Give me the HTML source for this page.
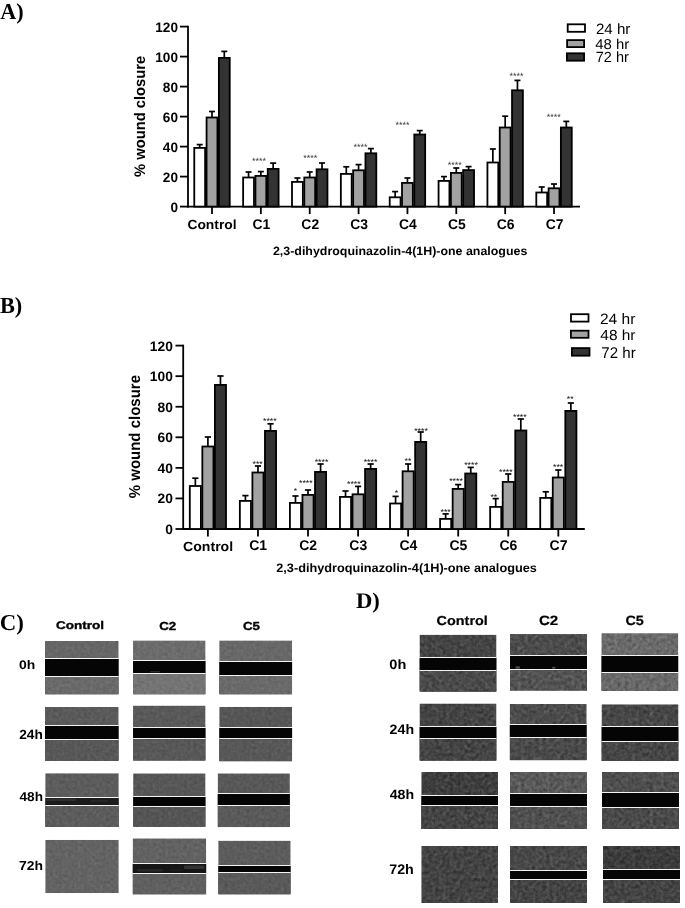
<!DOCTYPE html>
<html><head><meta charset="utf-8"><title>Wound closure</title>
<style>html,body{margin:0;padding:0;background:#fff;width:685px;height:908px;overflow:hidden}svg{display:block}</style>
</head><body>
<svg width="685" height="908" viewBox="0 0 685 908" font-family="'Liberation Sans', Arial, sans-serif" text-rendering="geometricPrecision">
<defs><filter id="grainC" x="0" y="0" width="1" height="1" color-interpolation-filters="sRGB"><feTurbulence type="fractalNoise" baseFrequency="0.32" numOctaves="2" seed="3" result="n"/><feColorMatrix in="n" type="matrix" values="0.33 0.33 0.34 0 0  0.33 0.33 0.34 0 0  0.33 0.33 0.34 0 0  0 0 0 0 1" result="g"/><feComposite in="SourceGraphic" in2="g" operator="arithmetic" k1="0" k2="1" k3="0.2" k4="-0.1" result="c"/><feComposite in="c" in2="SourceAlpha" operator="in"/></filter><filter id="grainD" x="0" y="0" width="1" height="1" color-interpolation-filters="sRGB"><feTurbulence type="fractalNoise" baseFrequency="0.28" numOctaves="3" seed="11" result="n"/><feColorMatrix in="n" type="matrix" values="0.33 0.33 0.34 0 0  0.33 0.33 0.34 0 0  0.33 0.33 0.34 0 0  0 0 0 0 1" result="g"/><feComposite in="SourceGraphic" in2="g" operator="arithmetic" k1="0" k2="1" k3="0.42" k4="-0.21" result="c"/><feComposite in="c" in2="SourceAlpha" operator="in"/></filter></defs>
<rect width="685" height="908" fill="#fff"/>
<g id="shapes">
<line x1="188" y1="25.699999999999996" x2="188" y2="207.5" stroke="#000" stroke-width="1.8"/>
<line x1="187.1" y1="206.6" x2="580" y2="206.6" stroke="#000" stroke-width="1.8"/>
<line x1="180" y1="206.60" x2="188" y2="206.60" stroke="#000" stroke-width="1.8"/>
<line x1="180" y1="176.60" x2="188" y2="176.60" stroke="#000" stroke-width="1.8"/>
<line x1="180" y1="146.60" x2="188" y2="146.60" stroke="#000" stroke-width="1.8"/>
<line x1="180" y1="116.60" x2="188" y2="116.60" stroke="#000" stroke-width="1.8"/>
<line x1="180" y1="86.60" x2="188" y2="86.60" stroke="#000" stroke-width="1.8"/>
<line x1="180" y1="56.60" x2="188" y2="56.60" stroke="#000" stroke-width="1.8"/>
<line x1="180" y1="26.60" x2="188" y2="26.60" stroke="#000" stroke-width="1.8"/>
<line x1="212.00" y1="206.6" x2="212.00" y2="214.1" stroke="#000" stroke-width="1.8"/>
<line x1="199.70" y1="147.90" x2="199.70" y2="144.60" stroke="#000" stroke-width="1.7"/>
<line x1="196.70" y1="144.60" x2="202.70" y2="144.60" stroke="#000" stroke-width="1.7"/>
<rect x="194.27" y="147.90" width="10.85" height="58.70" fill="#fff" stroke="#000" stroke-width="1.8"/>
<line x1="212.00" y1="117.50" x2="212.00" y2="111.50" stroke="#000" stroke-width="1.7"/>
<line x1="209.00" y1="111.50" x2="215.00" y2="111.50" stroke="#000" stroke-width="1.7"/>
<rect x="206.57" y="117.50" width="10.85" height="89.10" fill="#a2a2a2" stroke="#000" stroke-width="1.8"/>
<line x1="224.30" y1="57.90" x2="224.30" y2="51.40" stroke="#000" stroke-width="1.7"/>
<line x1="221.30" y1="51.40" x2="227.30" y2="51.40" stroke="#000" stroke-width="1.7"/>
<rect x="218.88" y="57.90" width="10.85" height="148.70" fill="#333333" stroke="#000" stroke-width="1.8"/>
<line x1="260.86" y1="206.6" x2="260.86" y2="214.1" stroke="#000" stroke-width="1.8"/>
<line x1="248.56" y1="177.50" x2="248.56" y2="172.00" stroke="#000" stroke-width="1.7"/>
<line x1="245.56" y1="172.00" x2="251.56" y2="172.00" stroke="#000" stroke-width="1.7"/>
<rect x="243.13" y="177.50" width="10.85" height="29.10" fill="#fff" stroke="#000" stroke-width="1.8"/>
<line x1="260.86" y1="175.90" x2="260.86" y2="171.60" stroke="#000" stroke-width="1.7"/>
<line x1="257.86" y1="171.60" x2="263.86" y2="171.60" stroke="#000" stroke-width="1.7"/>
<rect x="255.44" y="175.90" width="10.85" height="30.70" fill="#a2a2a2" stroke="#000" stroke-width="1.8"/>
<line x1="273.16" y1="168.90" x2="273.16" y2="163.10" stroke="#000" stroke-width="1.7"/>
<line x1="270.16" y1="163.10" x2="276.16" y2="163.10" stroke="#000" stroke-width="1.7"/>
<rect x="267.74" y="168.90" width="10.85" height="37.70" fill="#333333" stroke="#000" stroke-width="1.8"/>
<line x1="309.72" y1="206.6" x2="309.72" y2="214.1" stroke="#000" stroke-width="1.8"/>
<line x1="297.42" y1="181.90" x2="297.42" y2="178.00" stroke="#000" stroke-width="1.7"/>
<line x1="294.42" y1="178.00" x2="300.42" y2="178.00" stroke="#000" stroke-width="1.7"/>
<rect x="292.00" y="181.90" width="10.85" height="24.70" fill="#fff" stroke="#000" stroke-width="1.8"/>
<line x1="309.72" y1="177.50" x2="309.72" y2="172.00" stroke="#000" stroke-width="1.7"/>
<line x1="306.72" y1="172.00" x2="312.72" y2="172.00" stroke="#000" stroke-width="1.7"/>
<rect x="304.30" y="177.50" width="10.85" height="29.10" fill="#a2a2a2" stroke="#000" stroke-width="1.8"/>
<line x1="322.02" y1="169.30" x2="322.02" y2="163.00" stroke="#000" stroke-width="1.7"/>
<line x1="319.02" y1="163.00" x2="325.02" y2="163.00" stroke="#000" stroke-width="1.7"/>
<rect x="316.60" y="169.30" width="10.85" height="37.30" fill="#333333" stroke="#000" stroke-width="1.8"/>
<line x1="358.58" y1="206.6" x2="358.58" y2="214.1" stroke="#000" stroke-width="1.8"/>
<line x1="346.28" y1="173.90" x2="346.28" y2="166.80" stroke="#000" stroke-width="1.7"/>
<line x1="343.28" y1="166.80" x2="349.28" y2="166.80" stroke="#000" stroke-width="1.7"/>
<rect x="340.85" y="173.90" width="10.85" height="32.70" fill="#fff" stroke="#000" stroke-width="1.8"/>
<line x1="358.58" y1="170.30" x2="358.58" y2="164.60" stroke="#000" stroke-width="1.7"/>
<line x1="355.58" y1="164.60" x2="361.58" y2="164.60" stroke="#000" stroke-width="1.7"/>
<rect x="353.15" y="170.30" width="10.85" height="36.30" fill="#a2a2a2" stroke="#000" stroke-width="1.8"/>
<line x1="370.88" y1="153.30" x2="370.88" y2="148.60" stroke="#000" stroke-width="1.7"/>
<line x1="367.88" y1="148.60" x2="373.88" y2="148.60" stroke="#000" stroke-width="1.7"/>
<rect x="365.45" y="153.30" width="10.85" height="53.30" fill="#333333" stroke="#000" stroke-width="1.8"/>
<line x1="407.44" y1="206.6" x2="407.44" y2="214.1" stroke="#000" stroke-width="1.8"/>
<line x1="395.14" y1="197.30" x2="395.14" y2="191.60" stroke="#000" stroke-width="1.7"/>
<line x1="392.14" y1="191.60" x2="398.14" y2="191.60" stroke="#000" stroke-width="1.7"/>
<rect x="389.71" y="197.30" width="10.85" height="9.30" fill="#fff" stroke="#000" stroke-width="1.8"/>
<line x1="407.44" y1="182.90" x2="407.44" y2="178.00" stroke="#000" stroke-width="1.7"/>
<line x1="404.44" y1="178.00" x2="410.44" y2="178.00" stroke="#000" stroke-width="1.7"/>
<rect x="402.01" y="182.90" width="10.85" height="23.70" fill="#a2a2a2" stroke="#000" stroke-width="1.8"/>
<line x1="419.74" y1="134.50" x2="419.74" y2="130.60" stroke="#000" stroke-width="1.7"/>
<line x1="416.74" y1="130.60" x2="422.74" y2="130.60" stroke="#000" stroke-width="1.7"/>
<rect x="414.31" y="134.50" width="10.85" height="72.10" fill="#333333" stroke="#000" stroke-width="1.8"/>
<line x1="456.30" y1="206.6" x2="456.30" y2="214.1" stroke="#000" stroke-width="1.8"/>
<line x1="444.00" y1="180.90" x2="444.00" y2="176.60" stroke="#000" stroke-width="1.7"/>
<line x1="441.00" y1="176.60" x2="447.00" y2="176.60" stroke="#000" stroke-width="1.7"/>
<rect x="438.57" y="180.90" width="10.85" height="25.70" fill="#fff" stroke="#000" stroke-width="1.8"/>
<line x1="456.30" y1="172.90" x2="456.30" y2="168.00" stroke="#000" stroke-width="1.7"/>
<line x1="453.30" y1="168.00" x2="459.30" y2="168.00" stroke="#000" stroke-width="1.7"/>
<rect x="450.88" y="172.90" width="10.85" height="33.70" fill="#a2a2a2" stroke="#000" stroke-width="1.8"/>
<line x1="468.60" y1="170.10" x2="468.60" y2="166.60" stroke="#000" stroke-width="1.7"/>
<line x1="465.60" y1="166.60" x2="471.60" y2="166.60" stroke="#000" stroke-width="1.7"/>
<rect x="463.18" y="170.10" width="10.85" height="36.50" fill="#333333" stroke="#000" stroke-width="1.8"/>
<line x1="505.16" y1="206.6" x2="505.16" y2="214.1" stroke="#000" stroke-width="1.8"/>
<line x1="492.86" y1="162.50" x2="492.86" y2="149.00" stroke="#000" stroke-width="1.7"/>
<line x1="489.86" y1="149.00" x2="495.86" y2="149.00" stroke="#000" stroke-width="1.7"/>
<rect x="487.43" y="162.50" width="10.85" height="44.10" fill="#fff" stroke="#000" stroke-width="1.8"/>
<line x1="505.16" y1="127.50" x2="505.16" y2="116.20" stroke="#000" stroke-width="1.7"/>
<line x1="502.16" y1="116.20" x2="508.16" y2="116.20" stroke="#000" stroke-width="1.7"/>
<rect x="499.73" y="127.50" width="10.85" height="79.10" fill="#a2a2a2" stroke="#000" stroke-width="1.8"/>
<line x1="517.46" y1="90.30" x2="517.46" y2="80.40" stroke="#000" stroke-width="1.7"/>
<line x1="514.46" y1="80.40" x2="520.46" y2="80.40" stroke="#000" stroke-width="1.7"/>
<rect x="512.03" y="90.30" width="10.85" height="116.30" fill="#333333" stroke="#000" stroke-width="1.8"/>
<line x1="554.02" y1="206.6" x2="554.02" y2="214.1" stroke="#000" stroke-width="1.8"/>
<line x1="541.72" y1="192.50" x2="541.72" y2="187.00" stroke="#000" stroke-width="1.7"/>
<line x1="538.72" y1="187.00" x2="544.72" y2="187.00" stroke="#000" stroke-width="1.7"/>
<rect x="536.30" y="192.50" width="10.85" height="14.10" fill="#fff" stroke="#000" stroke-width="1.8"/>
<line x1="554.02" y1="188.30" x2="554.02" y2="184.00" stroke="#000" stroke-width="1.7"/>
<line x1="551.02" y1="184.00" x2="557.02" y2="184.00" stroke="#000" stroke-width="1.7"/>
<rect x="548.60" y="188.30" width="10.85" height="18.30" fill="#a2a2a2" stroke="#000" stroke-width="1.8"/>
<line x1="566.32" y1="127.50" x2="566.32" y2="121.40" stroke="#000" stroke-width="1.7"/>
<line x1="563.32" y1="121.40" x2="569.32" y2="121.40" stroke="#000" stroke-width="1.7"/>
<rect x="560.89" y="127.50" width="10.85" height="79.10" fill="#333333" stroke="#000" stroke-width="1.8"/>
<rect x="567.7" y="24.3" width="17.3" height="7.5" fill="#fff" stroke="#000" stroke-width="1.8"/>
<rect x="567.1" y="40.1" width="17.0" height="7.0" fill="#a2a2a2" stroke="#000" stroke-width="1.8"/>
<rect x="566.9" y="53.3" width="17.2" height="7.4" fill="#333333" stroke="#000" stroke-width="1.8"/>
<line x1="183.2" y1="344.70400000000006" x2="183.2" y2="529.9" stroke="#000" stroke-width="1.8"/>
<line x1="182.29999999999998" y1="529" x2="584.8" y2="529" stroke="#000" stroke-width="1.8"/>
<line x1="175.5" y1="529.00" x2="183.2" y2="529.00" stroke="#000" stroke-width="1.8"/>
<line x1="175.5" y1="498.43" x2="183.2" y2="498.43" stroke="#000" stroke-width="1.8"/>
<line x1="175.5" y1="467.87" x2="183.2" y2="467.87" stroke="#000" stroke-width="1.8"/>
<line x1="175.5" y1="437.30" x2="183.2" y2="437.30" stroke="#000" stroke-width="1.8"/>
<line x1="175.5" y1="406.74" x2="183.2" y2="406.74" stroke="#000" stroke-width="1.8"/>
<line x1="175.5" y1="376.17" x2="183.2" y2="376.17" stroke="#000" stroke-width="1.8"/>
<line x1="175.5" y1="345.60" x2="183.2" y2="345.60" stroke="#000" stroke-width="1.8"/>
<line x1="207.90" y1="529" x2="207.90" y2="536.5" stroke="#000" stroke-width="1.8"/>
<line x1="195.35" y1="486.00" x2="195.35" y2="478.20" stroke="#000" stroke-width="1.7"/>
<line x1="192.25" y1="478.20" x2="198.45" y2="478.20" stroke="#000" stroke-width="1.7"/>
<rect x="189.80" y="486.00" width="11.10" height="43.00" fill="#fff" stroke="#000" stroke-width="1.8"/>
<line x1="207.90" y1="446.50" x2="207.90" y2="437.00" stroke="#000" stroke-width="1.7"/>
<line x1="204.80" y1="437.00" x2="211.00" y2="437.00" stroke="#000" stroke-width="1.7"/>
<rect x="202.35" y="446.50" width="11.10" height="82.50" fill="#a2a2a2" stroke="#000" stroke-width="1.8"/>
<line x1="220.45" y1="384.90" x2="220.45" y2="376.00" stroke="#000" stroke-width="1.7"/>
<line x1="217.35" y1="376.00" x2="223.55" y2="376.00" stroke="#000" stroke-width="1.7"/>
<rect x="214.90" y="384.90" width="11.10" height="144.10" fill="#333333" stroke="#000" stroke-width="1.8"/>
<line x1="257.96" y1="529" x2="257.96" y2="536.5" stroke="#000" stroke-width="1.8"/>
<line x1="245.41" y1="500.90" x2="245.41" y2="495.60" stroke="#000" stroke-width="1.7"/>
<line x1="242.31" y1="495.60" x2="248.51" y2="495.60" stroke="#000" stroke-width="1.7"/>
<rect x="239.86" y="500.90" width="11.10" height="28.10" fill="#fff" stroke="#000" stroke-width="1.8"/>
<line x1="257.96" y1="472.50" x2="257.96" y2="466.00" stroke="#000" stroke-width="1.7"/>
<line x1="254.86" y1="466.00" x2="261.06" y2="466.00" stroke="#000" stroke-width="1.7"/>
<rect x="252.41" y="472.50" width="11.10" height="56.50" fill="#a2a2a2" stroke="#000" stroke-width="1.8"/>
<line x1="270.51" y1="430.90" x2="270.51" y2="423.80" stroke="#000" stroke-width="1.7"/>
<line x1="267.41" y1="423.80" x2="273.61" y2="423.80" stroke="#000" stroke-width="1.7"/>
<rect x="264.96" y="430.90" width="11.10" height="98.10" fill="#333333" stroke="#000" stroke-width="1.8"/>
<line x1="308.02" y1="529" x2="308.02" y2="536.5" stroke="#000" stroke-width="1.8"/>
<line x1="295.47" y1="502.90" x2="295.47" y2="496.00" stroke="#000" stroke-width="1.7"/>
<line x1="292.37" y1="496.00" x2="298.57" y2="496.00" stroke="#000" stroke-width="1.7"/>
<rect x="289.92" y="502.90" width="11.10" height="26.10" fill="#fff" stroke="#000" stroke-width="1.8"/>
<line x1="308.02" y1="494.90" x2="308.02" y2="490.00" stroke="#000" stroke-width="1.7"/>
<line x1="304.92" y1="490.00" x2="311.12" y2="490.00" stroke="#000" stroke-width="1.7"/>
<rect x="302.47" y="494.90" width="11.10" height="34.10" fill="#a2a2a2" stroke="#000" stroke-width="1.8"/>
<line x1="320.57" y1="471.90" x2="320.57" y2="464.00" stroke="#000" stroke-width="1.7"/>
<line x1="317.47" y1="464.00" x2="323.67" y2="464.00" stroke="#000" stroke-width="1.7"/>
<rect x="315.02" y="471.90" width="11.10" height="57.10" fill="#333333" stroke="#000" stroke-width="1.8"/>
<line x1="358.08" y1="529" x2="358.08" y2="536.5" stroke="#000" stroke-width="1.8"/>
<line x1="345.53" y1="496.90" x2="345.53" y2="491.00" stroke="#000" stroke-width="1.7"/>
<line x1="342.43" y1="491.00" x2="348.63" y2="491.00" stroke="#000" stroke-width="1.7"/>
<rect x="339.98" y="496.90" width="11.10" height="32.10" fill="#fff" stroke="#000" stroke-width="1.8"/>
<line x1="358.08" y1="494.30" x2="358.08" y2="486.40" stroke="#000" stroke-width="1.7"/>
<line x1="354.98" y1="486.40" x2="361.18" y2="486.40" stroke="#000" stroke-width="1.7"/>
<rect x="352.53" y="494.30" width="11.10" height="34.70" fill="#a2a2a2" stroke="#000" stroke-width="1.8"/>
<line x1="370.63" y1="468.90" x2="370.63" y2="464.00" stroke="#000" stroke-width="1.7"/>
<line x1="367.53" y1="464.00" x2="373.73" y2="464.00" stroke="#000" stroke-width="1.7"/>
<rect x="365.08" y="468.90" width="11.10" height="60.10" fill="#333333" stroke="#000" stroke-width="1.8"/>
<line x1="408.14" y1="529" x2="408.14" y2="536.5" stroke="#000" stroke-width="1.8"/>
<line x1="395.59" y1="503.50" x2="395.59" y2="496.40" stroke="#000" stroke-width="1.7"/>
<line x1="392.49" y1="496.40" x2="398.69" y2="496.40" stroke="#000" stroke-width="1.7"/>
<rect x="390.04" y="503.50" width="11.10" height="25.50" fill="#fff" stroke="#000" stroke-width="1.8"/>
<line x1="408.14" y1="471.30" x2="408.14" y2="464.00" stroke="#000" stroke-width="1.7"/>
<line x1="405.04" y1="464.00" x2="411.24" y2="464.00" stroke="#000" stroke-width="1.7"/>
<rect x="402.59" y="471.30" width="11.10" height="57.70" fill="#a2a2a2" stroke="#000" stroke-width="1.8"/>
<line x1="420.69" y1="441.90" x2="420.69" y2="432.00" stroke="#000" stroke-width="1.7"/>
<line x1="417.59" y1="432.00" x2="423.79" y2="432.00" stroke="#000" stroke-width="1.7"/>
<rect x="415.14" y="441.90" width="11.10" height="87.10" fill="#333333" stroke="#000" stroke-width="1.8"/>
<line x1="458.20" y1="529" x2="458.20" y2="536.5" stroke="#000" stroke-width="1.8"/>
<line x1="445.65" y1="518.90" x2="445.65" y2="513.90" stroke="#000" stroke-width="1.7"/>
<line x1="442.55" y1="513.90" x2="448.75" y2="513.90" stroke="#000" stroke-width="1.7"/>
<rect x="440.10" y="518.90" width="11.10" height="10.10" fill="#fff" stroke="#000" stroke-width="1.8"/>
<line x1="458.20" y1="488.90" x2="458.20" y2="484.60" stroke="#000" stroke-width="1.7"/>
<line x1="455.10" y1="484.60" x2="461.30" y2="484.60" stroke="#000" stroke-width="1.7"/>
<rect x="452.65" y="488.90" width="11.10" height="40.10" fill="#a2a2a2" stroke="#000" stroke-width="1.8"/>
<line x1="470.75" y1="473.50" x2="470.75" y2="467.40" stroke="#000" stroke-width="1.7"/>
<line x1="467.65" y1="467.40" x2="473.85" y2="467.40" stroke="#000" stroke-width="1.7"/>
<rect x="465.20" y="473.50" width="11.10" height="55.50" fill="#333333" stroke="#000" stroke-width="1.8"/>
<line x1="508.26" y1="529" x2="508.26" y2="536.5" stroke="#000" stroke-width="1.8"/>
<line x1="495.71" y1="506.90" x2="495.71" y2="498.60" stroke="#000" stroke-width="1.7"/>
<line x1="492.61" y1="498.60" x2="498.81" y2="498.60" stroke="#000" stroke-width="1.7"/>
<rect x="490.16" y="506.90" width="11.10" height="22.10" fill="#fff" stroke="#000" stroke-width="1.8"/>
<line x1="508.26" y1="481.90" x2="508.26" y2="474.00" stroke="#000" stroke-width="1.7"/>
<line x1="505.16" y1="474.00" x2="511.36" y2="474.00" stroke="#000" stroke-width="1.7"/>
<rect x="502.71" y="481.90" width="11.10" height="47.10" fill="#a2a2a2" stroke="#000" stroke-width="1.8"/>
<line x1="520.81" y1="430.50" x2="520.81" y2="419.00" stroke="#000" stroke-width="1.7"/>
<line x1="517.71" y1="419.00" x2="523.91" y2="419.00" stroke="#000" stroke-width="1.7"/>
<rect x="515.26" y="430.50" width="11.10" height="98.50" fill="#333333" stroke="#000" stroke-width="1.8"/>
<line x1="558.32" y1="529" x2="558.32" y2="536.5" stroke="#000" stroke-width="1.8"/>
<line x1="545.77" y1="497.90" x2="545.77" y2="491.80" stroke="#000" stroke-width="1.7"/>
<line x1="542.67" y1="491.80" x2="548.87" y2="491.80" stroke="#000" stroke-width="1.7"/>
<rect x="540.22" y="497.90" width="11.10" height="31.10" fill="#fff" stroke="#000" stroke-width="1.8"/>
<line x1="558.32" y1="477.50" x2="558.32" y2="470.00" stroke="#000" stroke-width="1.7"/>
<line x1="555.22" y1="470.00" x2="561.42" y2="470.00" stroke="#000" stroke-width="1.7"/>
<rect x="552.77" y="477.50" width="11.10" height="51.50" fill="#a2a2a2" stroke="#000" stroke-width="1.8"/>
<line x1="570.87" y1="410.90" x2="570.87" y2="403.00" stroke="#000" stroke-width="1.7"/>
<line x1="567.77" y1="403.00" x2="573.97" y2="403.00" stroke="#000" stroke-width="1.7"/>
<rect x="565.32" y="410.90" width="11.10" height="118.10" fill="#333333" stroke="#000" stroke-width="1.8"/>
<rect x="571" y="314.2" width="17.5" height="7.4" fill="#fff" stroke="#000" stroke-width="1.8"/>
<rect x="570.9" y="330.7" width="17.6" height="7.1" fill="#a2a2a2" stroke="#000" stroke-width="1.8"/>
<rect x="571.9" y="348.1" width="17.6" height="7.6" fill="#333333" stroke="#000" stroke-width="1.8"/>
<g filter="url(#grainC)">
<rect x="45.0" y="641" width="73.60" height="53.40" fill="#666666"/>
<rect x="45.0" y="676" width="73.60" height="18.40" fill="#6a6a6a"/>
<rect x="133.1" y="640.5" width="72.40" height="53.90" fill="#6c6c6c"/>
<rect x="133.1" y="673" width="72.40" height="21.40" fill="#747474"/>
<rect x="219.3" y="640.5" width="72.80" height="53.90" fill="#686868"/>
<rect x="219.3" y="675" width="72.80" height="19.40" fill="#6a6a6a"/>
<rect x="45.0" y="707" width="73.60" height="53.90" fill="#5a5a5a"/>
<rect x="45.0" y="739" width="73.60" height="21.90" fill="#585858"/>
<rect x="133.1" y="705.6" width="72.40" height="55.00" fill="#595959"/>
<rect x="133.1" y="738" width="72.40" height="22.60" fill="#585858"/>
<rect x="219.3" y="706.9" width="72.80" height="54.40" fill="#565656"/>
<rect x="219.3" y="738" width="72.80" height="23.30" fill="#585858"/>
<rect x="45.3" y="773.3" width="73.40" height="53.70" fill="#5c5c5c"/>
<rect x="45.3" y="805" width="73.40" height="22.00" fill="#5c5c5c"/>
<rect x="133.2" y="773.4" width="72.30" height="53.40" fill="#575757"/>
<rect x="133.2" y="806" width="72.30" height="20.80" fill="#555555"/>
<rect x="217.7" y="773.4" width="72.10" height="53.70" fill="#585858"/>
<rect x="217.7" y="805" width="72.10" height="22.10" fill="#5a5a5a"/>
<rect x="45.3" y="839.9" width="73.40" height="53.20" fill="#636363"/>
<rect x="132.7" y="838.4" width="73.50" height="56.00" fill="#626262"/>
<rect x="132.7" y="873" width="73.50" height="21.40" fill="#606060"/>
<rect x="218.3" y="840.7" width="72.30" height="53.70" fill="#5c5c5c"/>
<rect x="218.3" y="872" width="72.30" height="22.40" fill="#5a5a5a"/>
</g>
<g filter="url(#grainD)">
<rect x="419.6" y="634.8" width="76.80" height="56.80" fill="#444444"/>
<rect x="419.6" y="670" width="76.80" height="21.60" fill="#4a4a4a"/>
<rect x="510" y="634.1" width="77.00" height="56.40" fill="#4c4c4c"/>
<rect x="510" y="669" width="77.00" height="21.50" fill="#535353"/>
<rect x="601.5" y="633.3" width="76.70" height="57.50" fill="#6a6a6a"/>
<rect x="601.5" y="672" width="76.70" height="18.80" fill="#686868"/>
<rect x="419.6" y="703.6" width="76.80" height="57.00" fill="#444444"/>
<rect x="419.6" y="738" width="76.80" height="22.60" fill="#444444"/>
<rect x="509.8" y="704" width="76.80" height="56.20" fill="#4c4c4c"/>
<rect x="509.8" y="737" width="76.80" height="23.20" fill="#4a4a4a"/>
<rect x="601.6" y="704.4" width="76.80" height="56.60" fill="#474747"/>
<rect x="601.6" y="741" width="76.80" height="20.00" fill="#464646"/>
<rect x="421.4" y="772" width="76.60" height="57.00" fill="#3e3e3e"/>
<rect x="421.4" y="805" width="76.60" height="24.00" fill="#444444"/>
<rect x="510" y="772" width="77.00" height="57.00" fill="#595959"/>
<rect x="510" y="806" width="77.00" height="23.00" fill="#505050"/>
<rect x="602" y="772" width="77.00" height="57.00" fill="#4f4f4f"/>
<rect x="602" y="807" width="77.00" height="22.00" fill="#4a4a4a"/>
<rect x="421.4" y="846" width="76.60" height="57.00" fill="#434343"/>
<rect x="510" y="846" width="77.00" height="57.00" fill="#484848"/>
<rect x="510" y="879" width="77.00" height="24.00" fill="#444444"/>
<rect x="603" y="846" width="77.00" height="57.00" fill="#3c3c3c"/>
<rect x="603" y="879" width="77.00" height="24.00" fill="#444444"/>
</g>
<rect x="45.0" y="659" width="73.60" height="17" fill="#050505"/>
<rect x="45.0" y="658" width="73.60" height="1" fill="#f4f4f4"/>
<rect x="45.0" y="676" width="73.60" height="1" fill="#f4f4f4"/>
<rect x="133.1" y="661" width="72.40" height="12" fill="#050505"/>
<rect x="133.1" y="660" width="72.40" height="1" fill="#f4f4f4"/>
<rect x="133.1" y="673" width="72.40" height="1" fill="#f4f4f4"/>
<rect x="219.3" y="662" width="72.80" height="13" fill="#050505"/>
<rect x="219.3" y="661" width="72.80" height="1" fill="#f4f4f4"/>
<rect x="219.3" y="675" width="72.80" height="1" fill="#f4f4f4"/>
<rect x="45.0" y="726" width="73.60" height="13" fill="#050505"/>
<rect x="45.0" y="725" width="73.60" height="1" fill="#f4f4f4"/>
<rect x="45.0" y="739" width="73.60" height="1" fill="#f4f4f4"/>
<rect x="133.1" y="728" width="72.40" height="10" fill="#050505"/>
<rect x="133.1" y="727" width="72.40" height="1" fill="#f4f4f4"/>
<rect x="133.1" y="738" width="72.40" height="1" fill="#f4f4f4"/>
<rect x="219.3" y="728" width="72.80" height="10" fill="#050505"/>
<rect x="219.3" y="727" width="72.80" height="1" fill="#f4f4f4"/>
<rect x="219.3" y="738" width="72.80" height="1" fill="#f4f4f4"/>
<rect x="45.3" y="798" width="73.40" height="7" fill="#1c1c1c"/>
<rect x="45.3" y="797" width="73.40" height="1" fill="#f4f4f4"/>
<rect x="45.3" y="805" width="73.40" height="1" fill="#f4f4f4"/>
<rect x="133.2" y="797" width="72.30" height="9" fill="#050505"/>
<rect x="133.2" y="796" width="72.30" height="1" fill="#f4f4f4"/>
<rect x="133.2" y="806" width="72.30" height="1" fill="#f4f4f4"/>
<rect x="217.7" y="794" width="72.10" height="11" fill="#050505"/>
<rect x="217.7" y="793" width="72.10" height="1" fill="#f4f4f4"/>
<rect x="217.7" y="805" width="72.10" height="1" fill="#f4f4f4"/>
<rect x="132.7" y="864" width="73.50" height="9" fill="#161616"/>
<rect x="132.7" y="863" width="73.50" height="1" fill="#f4f4f4"/>
<rect x="132.7" y="873" width="73.50" height="1" fill="#f4f4f4"/>
<rect x="218.3" y="866" width="72.30" height="6" fill="#050505"/>
<rect x="218.3" y="865" width="72.30" height="1" fill="#f4f4f4"/>
<rect x="218.3" y="872" width="72.30" height="1" fill="#f4f4f4"/>
<rect x="419.6" y="658" width="76.80" height="12" fill="#050505"/>
<rect x="419.6" y="657" width="76.80" height="1" fill="#f4f4f4"/>
<rect x="419.6" y="670" width="76.80" height="1" fill="#f4f4f4"/>
<rect x="510" y="656" width="77.00" height="13" fill="#050505"/>
<rect x="510" y="655" width="77.00" height="1" fill="#f4f4f4"/>
<rect x="510" y="669" width="77.00" height="1" fill="#f4f4f4"/>
<rect x="601.5" y="656" width="76.70" height="16" fill="#050505"/>
<rect x="601.5" y="655" width="76.70" height="1" fill="#f4f4f4"/>
<rect x="601.5" y="672" width="76.70" height="1" fill="#f4f4f4"/>
<rect x="419.6" y="727" width="76.80" height="11" fill="#050505"/>
<rect x="419.6" y="726" width="76.80" height="1" fill="#f4f4f4"/>
<rect x="419.6" y="738" width="76.80" height="1" fill="#f4f4f4"/>
<rect x="509.8" y="725" width="76.80" height="12" fill="#050505"/>
<rect x="509.8" y="724" width="76.80" height="1" fill="#f4f4f4"/>
<rect x="509.8" y="737" width="76.80" height="1" fill="#f4f4f4"/>
<rect x="601.6" y="727" width="76.80" height="14" fill="#050505"/>
<rect x="601.6" y="726" width="76.80" height="1" fill="#f4f4f4"/>
<rect x="601.6" y="741" width="76.80" height="1" fill="#f4f4f4"/>
<rect x="421.4" y="796" width="76.60" height="9" fill="#050505"/>
<rect x="421.4" y="795" width="76.60" height="1" fill="#f4f4f4"/>
<rect x="421.4" y="805" width="76.60" height="1" fill="#f4f4f4"/>
<rect x="510" y="794" width="77.00" height="12" fill="#050505"/>
<rect x="510" y="793" width="77.00" height="1" fill="#f4f4f4"/>
<rect x="510" y="806" width="77.00" height="1" fill="#f4f4f4"/>
<rect x="602" y="793" width="77.00" height="14" fill="#050505"/>
<rect x="602" y="792" width="77.00" height="1" fill="#f4f4f4"/>
<rect x="602" y="807" width="77.00" height="1" fill="#f4f4f4"/>
<rect x="510" y="871" width="77.00" height="8" fill="#050505"/>
<rect x="510" y="870" width="77.00" height="1" fill="#f4f4f4"/>
<rect x="510" y="879" width="77.00" height="1" fill="#f4f4f4"/>
<rect x="603" y="870" width="77.00" height="9" fill="#050505"/>
<rect x="603" y="869" width="77.00" height="1" fill="#f4f4f4"/>
<rect x="603" y="879" width="77.00" height="1" fill="#f4f4f4"/>
<rect x="184" y="865.6" width="20.5" height="3.4" fill="#333" rx="1"/>
<rect x="137" y="869.2" width="26" height="2.2" fill="#2a2a2a" rx="1"/>
<rect x="170" y="869.5" width="12" height="1.8" fill="#1e1e1e" rx="1"/>
<rect x="515.5" y="666.3" width="4.5" height="2.4" fill="#4a4a4a" rx="1"/>
<rect x="552" y="666.8" width="3.6" height="1.9" fill="#4a4a4a" rx="1"/>
<rect x="46" y="798.5" width="30" height="2.5" fill="#2e2e2e" rx="1"/>
<rect x="90" y="800" width="18" height="2" fill="#262626" rx="1"/>
<rect x="150" y="671" width="10" height="1.6" fill="#2a2a2a" rx="1"/>
</g>
<g id="texts">
<text id="pA" x="0.137" y="18.530" font-size="22.848" font-weight="bold" font-family="'Liberation Serif', 'Times New Roman', serif" textLength="23.406" lengthAdjust="spacingAndGlyphs">A)</text>
<text id="pB" x="-0.013" y="312.813" font-size="22.953" font-weight="bold" font-family="'Liberation Serif', 'Times New Roman', serif" textLength="22.294" lengthAdjust="spacingAndGlyphs">B)</text>
<text id="pC" x="-0.269" y="629.624" font-size="22.753" font-weight="bold" font-family="'Liberation Serif', 'Times New Roman', serif" textLength="24.061" lengthAdjust="spacingAndGlyphs">C)</text>
<text id="pD" x="356.018" y="608.496" font-size="22.292" font-weight="bold" font-family="'Liberation Serif', 'Times New Roman', serif" textLength="23.857" lengthAdjust="spacingAndGlyphs">D)</text>
<text id="At120" x="177.984" y="31.647" font-size="13.710" font-weight="bold" text-anchor="end" textLength="22.681" lengthAdjust="spacingAndGlyphs">120</text>
<text id="At0" x="177.984" y="211.647" font-size="13.710" font-weight="bold" text-anchor="end" textLength="7.560" lengthAdjust="spacingAndGlyphs">0</text>
<text id="At20" x="177.984" y="181.647" font-size="13.710" font-weight="bold" text-anchor="end" textLength="15.121" lengthAdjust="spacingAndGlyphs">20</text>
<text id="At40" x="177.984" y="151.647" font-size="13.710" font-weight="bold" text-anchor="end" textLength="15.121" lengthAdjust="spacingAndGlyphs">40</text>
<text id="At60" x="177.984" y="121.647" font-size="13.710" font-weight="bold" text-anchor="end" textLength="15.121" lengthAdjust="spacingAndGlyphs">60</text>
<text id="At80" x="177.984" y="91.647" font-size="13.710" font-weight="bold" text-anchor="end" textLength="15.121" lengthAdjust="spacingAndGlyphs">80</text>
<text id="At100" x="177.984" y="61.647" font-size="13.710" font-weight="bold" text-anchor="end" textLength="22.681" lengthAdjust="spacingAndGlyphs">100</text>
<text id="AxC7" x="554.532" y="228.794" font-size="14.113" font-weight="bold" text-anchor="middle" textLength="17.803" lengthAdjust="spacingAndGlyphs">C7</text>
<text id="AxC1" x="261.372" y="228.794" font-size="14.113" font-weight="bold" text-anchor="middle" textLength="17.803" lengthAdjust="spacingAndGlyphs">C1</text>
<text id="AxC2" x="310.232" y="228.794" font-size="14.113" font-weight="bold" text-anchor="middle" textLength="17.803" lengthAdjust="spacingAndGlyphs">C2</text>
<text id="AxC3" x="359.092" y="228.794" font-size="14.113" font-weight="bold" text-anchor="middle" textLength="17.803" lengthAdjust="spacingAndGlyphs">C3</text>
<text id="AxC4" x="407.952" y="228.794" font-size="14.113" font-weight="bold" text-anchor="middle" textLength="17.803" lengthAdjust="spacingAndGlyphs">C4</text>
<text id="AxC5" x="456.812" y="228.794" font-size="14.113" font-weight="bold" text-anchor="middle" textLength="17.803" lengthAdjust="spacingAndGlyphs">C5</text>
<text id="AxC6" x="505.672" y="228.794" font-size="14.113" font-weight="bold" text-anchor="middle" textLength="17.803" lengthAdjust="spacingAndGlyphs">C6</text>
<text id="AxControl" x="211.999" y="228.619" font-size="13.187" font-weight="bold" text-anchor="middle" textLength="49.130" lengthAdjust="spacingAndGlyphs">Control</text>
<text x="259.00" y="163.50" text-anchor="middle" font-size="9" fill="#333">****</text>
<text x="310.20" y="161.20" text-anchor="middle" font-size="9" fill="#333">****</text>
<text x="360.40" y="149.80" text-anchor="middle" font-size="9" fill="#333">****</text>
<text x="402.50" y="127.80" text-anchor="middle" font-size="9" fill="#333">****</text>
<text x="454.70" y="167.80" text-anchor="middle" font-size="9" fill="#333">****</text>
<text x="516.60" y="78.60" text-anchor="middle" font-size="9" fill="#333">****</text>
<text x="553.80" y="120.20" text-anchor="middle" font-size="9" fill="#333">****</text>
<text id="Axt" x="272.962" y="254.604" font-size="12.028" font-weight="bold" textLength="254.356" lengthAdjust="spacingAndGlyphs">2,3-dihydroquinazolin-4(1H)-one analogues</text>
<text id="Ayt" transform="translate(144.640,176.960) rotate(-90)" font-size="15.295" font-weight="bold" textLength="121.049" lengthAdjust="spacingAndGlyphs">% wound closure</text>
<text id="Aleg0" x="595.940" y="33.740" font-size="14.990" textLength="34.446" lengthAdjust="spacingAndGlyphs">24 hr</text>
<text id="Aleg1" x="595.312" y="48.744" font-size="14.346" textLength="34.008" lengthAdjust="spacingAndGlyphs">48 hr</text>
<text id="Aleg2" x="595.754" y="62.426" font-size="14.832" textLength="33.151" lengthAdjust="spacingAndGlyphs">72 hr</text>
<text id="Bt120" x="172.899" y="350.502" font-size="13.735" font-weight="bold" text-anchor="end" textLength="23.050" lengthAdjust="spacingAndGlyphs">120</text>
<text id="Bt0" x="172.899" y="533.898" font-size="13.735" font-weight="bold" text-anchor="end" textLength="7.683" lengthAdjust="spacingAndGlyphs">0</text>
<text id="Bt20" x="172.899" y="503.332" font-size="13.735" font-weight="bold" text-anchor="end" textLength="15.366" lengthAdjust="spacingAndGlyphs">20</text>
<text id="Bt40" x="172.899" y="472.766" font-size="13.735" font-weight="bold" text-anchor="end" textLength="15.366" lengthAdjust="spacingAndGlyphs">40</text>
<text id="Bt60" x="172.899" y="442.200" font-size="13.735" font-weight="bold" text-anchor="end" textLength="15.366" lengthAdjust="spacingAndGlyphs">60</text>
<text id="Bt80" x="172.899" y="411.634" font-size="13.735" font-weight="bold" text-anchor="end" textLength="15.366" lengthAdjust="spacingAndGlyphs">80</text>
<text id="Bt100" x="172.899" y="381.068" font-size="13.735" font-weight="bold" text-anchor="end" textLength="23.050" lengthAdjust="spacingAndGlyphs">100</text>
<text id="BxC7" x="558.503" y="550.474" font-size="14.032" font-weight="bold" text-anchor="middle" textLength="17.886" lengthAdjust="spacingAndGlyphs">C7</text>
<text id="BxC1" x="258.143" y="550.474" font-size="14.032" font-weight="bold" text-anchor="middle" textLength="17.886" lengthAdjust="spacingAndGlyphs">C1</text>
<text id="BxC2" x="308.203" y="550.474" font-size="14.032" font-weight="bold" text-anchor="middle" textLength="17.886" lengthAdjust="spacingAndGlyphs">C2</text>
<text id="BxC3" x="358.263" y="550.474" font-size="14.032" font-weight="bold" text-anchor="middle" textLength="17.886" lengthAdjust="spacingAndGlyphs">C3</text>
<text id="BxC4" x="408.323" y="550.474" font-size="14.032" font-weight="bold" text-anchor="middle" textLength="17.886" lengthAdjust="spacingAndGlyphs">C4</text>
<text id="BxC5" x="458.383" y="550.474" font-size="14.032" font-weight="bold" text-anchor="middle" textLength="17.886" lengthAdjust="spacingAndGlyphs">C5</text>
<text id="BxC6" x="508.443" y="550.474" font-size="14.032" font-weight="bold" text-anchor="middle" textLength="17.886" lengthAdjust="spacingAndGlyphs">C6</text>
<text id="BxControl" x="208.104" y="550.807" font-size="13.371" font-weight="bold" text-anchor="middle" textLength="50.136" lengthAdjust="spacingAndGlyphs">Control</text>
<text x="257.70" y="466.60" text-anchor="middle" font-size="8.7" fill="#111">***</text>
<text x="269.80" y="424.00" text-anchor="middle" font-size="8.7" fill="#111">****</text>
<text x="295.40" y="493.60" text-anchor="middle" font-size="8.7" fill="#111">*</text>
<text x="305.80" y="486.20" text-anchor="middle" font-size="8.7" fill="#111">****</text>
<text x="321.50" y="464.60" text-anchor="middle" font-size="8.7" fill="#111">****</text>
<text x="353.80" y="486.60" text-anchor="middle" font-size="8.7" fill="#111">****</text>
<text x="370.50" y="464.60" text-anchor="middle" font-size="8.7" fill="#111">****</text>
<text x="396.40" y="495.60" text-anchor="middle" font-size="8.7" fill="#111">*</text>
<text x="407.90" y="464.20" text-anchor="middle" font-size="8.7" fill="#111">**</text>
<text x="421.00" y="433.60" text-anchor="middle" font-size="8.7" fill="#111">****</text>
<text x="445.60" y="515.10" text-anchor="middle" font-size="8.7" fill="#111">***</text>
<text x="456.00" y="484.00" text-anchor="middle" font-size="8.7" fill="#111">****</text>
<text x="471.00" y="468.20" text-anchor="middle" font-size="8.7" fill="#111">****</text>
<text x="493.80" y="499.60" text-anchor="middle" font-size="8.7" fill="#111">**</text>
<text x="505.80" y="474.60" text-anchor="middle" font-size="8.7" fill="#111">****</text>
<text x="519.80" y="420.20" text-anchor="middle" font-size="8.7" fill="#111">****</text>
<text x="558.20" y="469.60" text-anchor="middle" font-size="8.7" fill="#111">***</text>
<text x="570.20" y="402.20" text-anchor="middle" font-size="8.7" fill="#111">**</text>
<text id="Bxt" x="276.281" y="571.710" font-size="12.240" font-weight="bold" textLength="260.572" lengthAdjust="spacingAndGlyphs">2,3-dihydroquinazolin-4(1H)-one analogues</text>
<text id="Byt" transform="translate(139.751,498.260) rotate(-90)" font-size="15.756" font-weight="bold" textLength="123.271" lengthAdjust="spacingAndGlyphs">% wound closure</text>
<text id="Bleg0" x="599.914" y="323.627" font-size="15.069" textLength="35.445" lengthAdjust="spacingAndGlyphs">24 hr</text>
<text id="Bleg1" x="600.318" y="339.979" font-size="14.588" textLength="35.208" lengthAdjust="spacingAndGlyphs">48 hr</text>
<text id="Bleg2" x="601.358" y="357.586" font-size="15.529" textLength="34.323" lengthAdjust="spacingAndGlyphs">72 hr</text>
<text id="cCtrl" x="55.979" y="629.244" font-size="11.118" font-weight="bold" stroke="#000" stroke-width="0.35" textLength="48.103" lengthAdjust="spacingAndGlyphs">Control</text>
<text id="cC2" x="159.248" y="629.720" font-size="11.692" font-weight="bold" stroke="#000" stroke-width="0.35" textLength="17.023" lengthAdjust="spacingAndGlyphs">C2</text>
<text id="cC5" x="242.948" y="629.741" font-size="11.671" font-weight="bold" stroke="#000" stroke-width="0.35" textLength="17.048" lengthAdjust="spacingAndGlyphs">C5</text>
<text id="dCtrl" x="436.635" y="624.694" font-size="12.952" font-weight="bold" stroke="#000" stroke-width="0.2" textLength="51.167" lengthAdjust="spacingAndGlyphs">Control</text>
<text id="dC2" x="538.932" y="625.136" font-size="13.426" font-weight="bold" stroke="#000" stroke-width="0.2" textLength="19.331" lengthAdjust="spacingAndGlyphs">C2</text>
<text id="dC5" x="625.445" y="625.118" font-size="13.379" font-weight="bold" stroke="#000" stroke-width="0.2" textLength="18.383" lengthAdjust="spacingAndGlyphs">C5</text>
<text id="c0h" x="18.900" y="669.481" font-size="12.424" font-weight="bold" textLength="16.257" lengthAdjust="spacingAndGlyphs">0h</text>
<text id="c24h" x="19.221" y="739.373" font-size="13.290" font-weight="bold" textLength="23.595" lengthAdjust="spacingAndGlyphs">24h</text>
<text id="c48h" x="19.469" y="800.770" font-size="12.812" font-weight="bold" textLength="23.495" lengthAdjust="spacingAndGlyphs">48h</text>
<text id="c72h" x="18.898" y="870.462" font-size="12.938" font-weight="bold" textLength="24.037" lengthAdjust="spacingAndGlyphs">72h</text>
<text id="d0h" x="389.301" y="668.532" font-size="13.641" font-weight="bold" textLength="16.984" lengthAdjust="spacingAndGlyphs">0h</text>
<text id="d24h" x="389.614" y="733.751" font-size="13.700" font-weight="bold" textLength="24.446" lengthAdjust="spacingAndGlyphs">24h</text>
<text id="d48h" x="389.728" y="798.729" font-size="13.325" font-weight="bold" textLength="24.395" lengthAdjust="spacingAndGlyphs">48h</text>
<text id="d72h" x="389.255" y="873.666" font-size="13.889" font-weight="bold" textLength="24.591" lengthAdjust="spacingAndGlyphs">72h</text>
</g>
</svg>
</body></html>
